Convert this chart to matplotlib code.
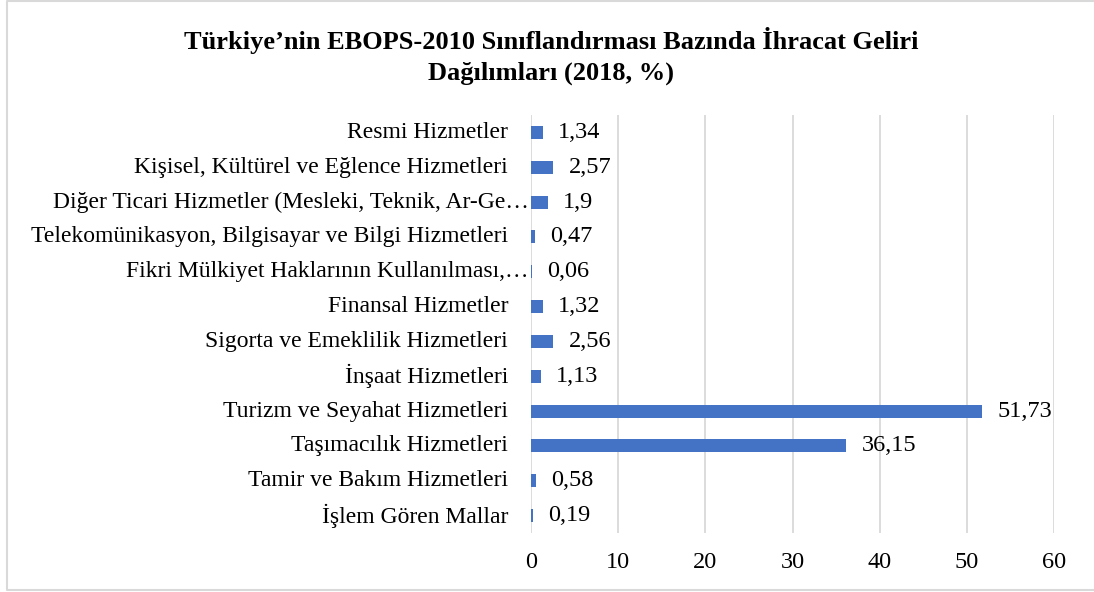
import matplotlib
matplotlib.use("Agg")
import matplotlib.pyplot as plt
import matplotlib.transforms as mtransforms
from matplotlib.lines import Line2D

plt.rcParams['font.family'] = ['Liberation Serif', 'DejaVu Serif']

categories = [
    "İşlem Gören Mallar",
    "Tamir ve Bakım Hizmetleri",
    "Taşımacılık Hizmetleri",
    "Turizm ve Seyahat Hizmetleri",
    "İnşaat Hizmetleri",
    "Sigorta ve Emeklilik Hizmetleri",
    "Finansal Hizmetler",
    "Fikri Mülkiyet Haklarının Kullanılması,…",
    "Telekomünikasyon, Bilgisayar ve Bilgi Hizmetleri",
    "Diğer Ticari Hizmetler (Mesleki, Teknik, Ar-Ge…",
    "Kişisel, Kültürel ve Eğlence Hizmetleri",
    "Resmi Hizmetler",
]
values = [0.19, 0.58, 36.15, 51.73, 1.13, 2.56, 1.32, 0.06, 0.47, 1.9, 2.57, 1.34]
xticks = [0, 10, 20, 30, 40, 50, 60]
title = "Türkiye’nin EBOPS-2010 Sınıflandırması Bazında İhracat Geliri\nDağılımları (2018, %)"

W, H = 1094, 592
fig = plt.figure(figsize=(W / 100, H / 100), dpi=100)
ax = fig.add_axes([531 / W, 1 - 533 / H, (1054 - 531) / W, (533 - 115) / H])

ypos = list(range(len(categories)))
ax.barh(ypos, values, height=0.37, color='#4472C4', zorder=3)
ax.set_xlim(0, 60)
ax.set_ylim(-0.5, len(categories) - 0.5)
ax.set_xticks(xticks)
ax.set_xticklabels([str(t) for t in xticks], fontsize=17.5)
ax.tick_params(axis='x', length=0, pad=14)
ax.set_yticks([])
ax.grid(axis='x', color='#d9d9d9', linewidth=1.3, zorder=0)
for s in ax.spines.values():
    s.set_visible(False)

# category labels
trans = mtransforms.blended_transform_factory(ax.transAxes, ax.transData)
for y, c in zip(ypos, categories):
    off = -2 / 100 if c.endswith('…') else -23 / 100
    t = trans + mtransforms.ScaledTranslation(off, 0, fig.dpi_scale_trans)
    ax.text(0, y, c, transform=t, ha='right', va='center', fontsize=17)

# value labels
for y, v in zip(ypos, values):
    ax.annotate(f"{v:g}".replace('.', ','), xy=(v, y), xytext=(11, 0),
                textcoords='offset points', ha='left', va='center', fontsize=17.5)

fig.text(551 / W, 1 - 56 / H, title, ha='center', va='center', fontsize=19,
         fontweight='bold', linespacing=1.4)

# chart border (left, top, bottom)
xl, yt, yb = 6.5 / W, 1 - 1.0 / H, 1 - 589.5 / H
fig.add_artist(Line2D([1.0, xl, xl, 1.0], [yt, yt, yb, yb],
                      transform=fig.transFigure, color='#d9d9d9', linewidth=1.5))

fig.savefig("out.png", dpi=100)
